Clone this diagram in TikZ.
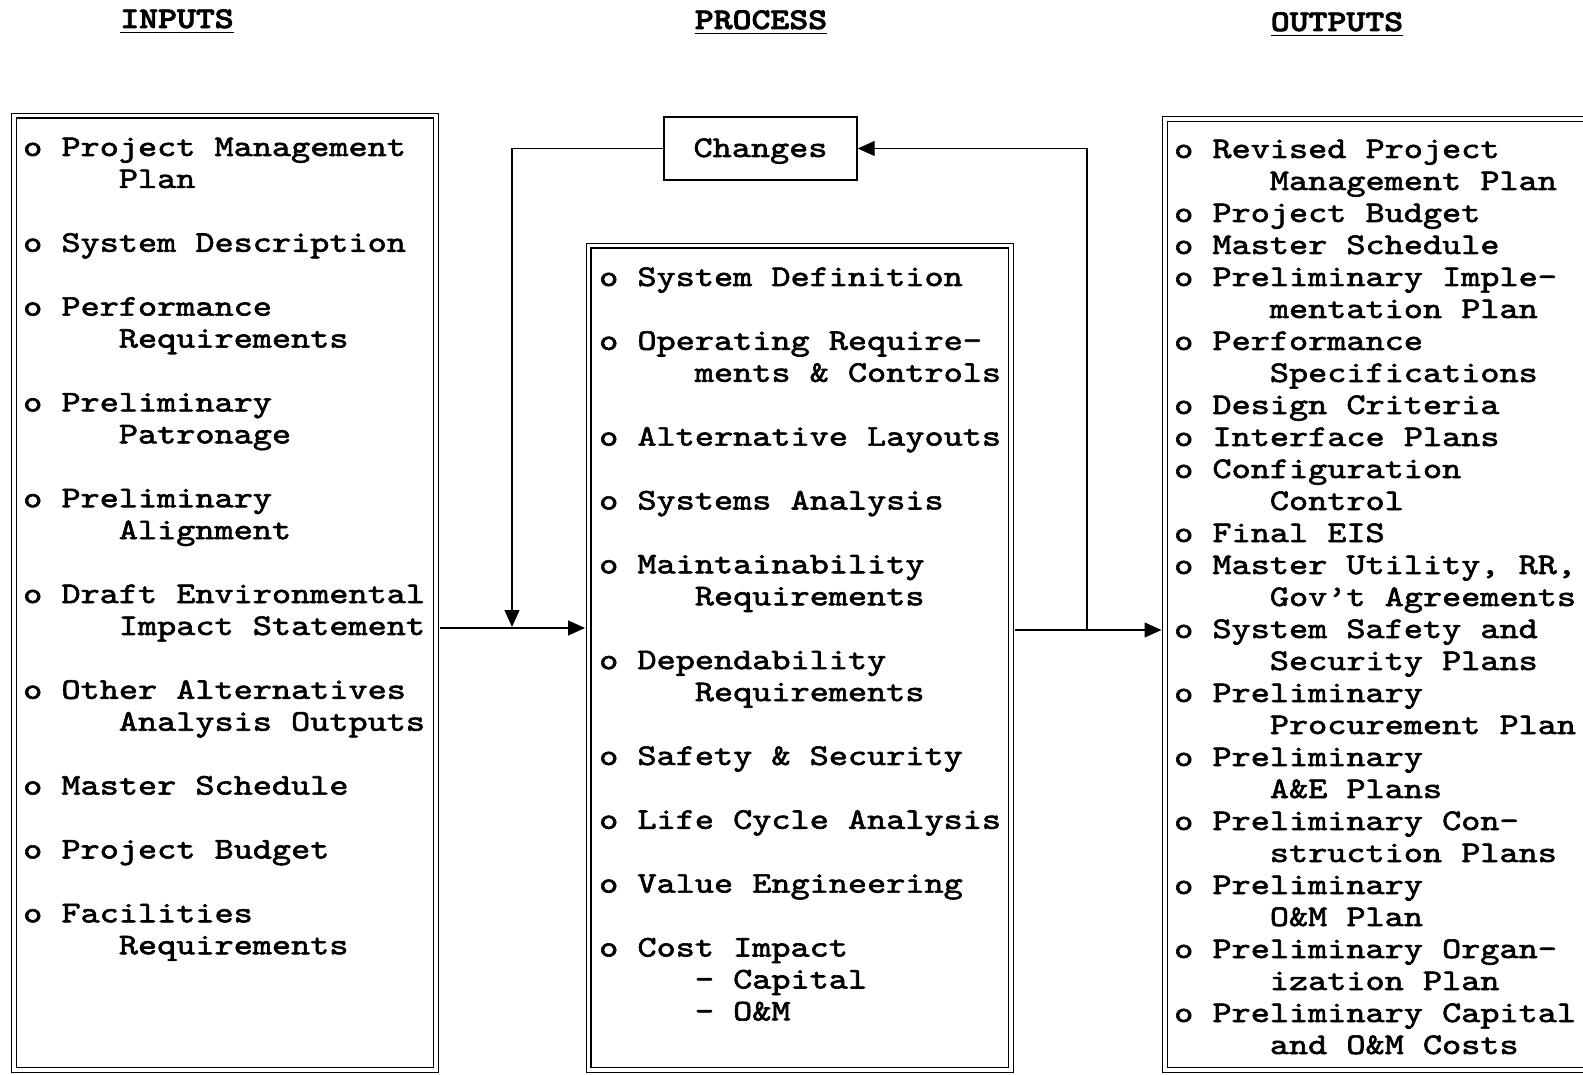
\documentclass[tikz,border=0pt]{standalone}
\usepackage{fontspec}
\usetikzlibrary{arrows.meta}

% serif typewriter face, widened to a Courier-like pitch
\newfontfamily\typew{lmmono10-regular.otf}[FakeStretch=1.215, FakeBold=2]
\newfontfamily\headfont{lmmonolt10-bold.otf}[FakeStretch=1.2, FakeBold=2.5]
\newcommand\bodyfont{\typew\fontsize{30}{32}\selectfont}
\newcommand\ind{\phantom{00000}}

% one text line per row of a fixed grid: name, x, first baseline, pitch, rows
\newcommand\itemrows[5]{%
  \foreach \r/\t in {#5}{%
    \node[txt] (#1-\r) at (#2, {#3 + \r*#4}) {\t};
  }%
}

\tikzset{
  txt/.style={font=\bodyfont, inner sep=0pt, anchor=base west},
  head/.style={font=\headfont\fontsize{30}{32}\selectfont, inner sep=0pt, anchor=base},
  dbox/.style={draw, double, double distance=3.4pt, line width=1.3pt,
               rectangle, inner sep=0pt, anchor=north west},
  sbox/.style={draw, line width=1.4pt, rectangle, inner sep=0pt,
               minimum width=193pt, minimum height=63pt,
               text height=20pt, text depth=3pt},
  conn/.style={line width=1.3pt},
  arr/.style={conn, -{Triangle[length=17pt,width=15pt]}},
}

\begin{document}
\begin{tikzpicture}[x=1pt, y=-1pt]
\useasboundingbox (0,0) rectangle (1583,1075);
\clip (0,0) rectangle (1583,1075);

% column headings
\node[head] (hin)   at (177,28)  {INPUTS};
\node[head] (hproc) at (761,29)  {PROCESS};
\node[head] (hout)  at (1337,31) {OUTPUTS};
\foreach \h in {hin,hproc,hout}
  \draw[line width=1.8pt] ([yshift=-4.5pt]\h.base west) -- ([yshift=-4.5pt]\h.base east);

% the three double-ruled columns
\node[dbox, minimum width=422pt,   minimum height=954.5pt] (inbox)   at (13.5,115)   {};
\node[dbox, minimum width=422.5pt, minimum height=824.5pt] (procbox) at (588,245)    {};
\node[dbox, minimum width=520pt,   minimum height=951pt]   (outbox)  at (1164.5,118.5) {};

% feedback box
\node[sbox, font=\bodyfont] (changes) at (760.5,148.5) {Changes};

% inputs
\itemrows{in}{23}{156}{31.93}{%
  0/o Project Management,
  1/\ind Plan,
  3/o System Description,
  5/o Performance,
  6/\ind Requirements,
  8/o Preliminary,
  9/\ind Patronage,
  11/o Preliminary,
  12/\ind Alignment,
  14/o Draft Environmental,
  15/\ind Impact Statement,
  17/o Other Alternatives,
  18/\ind Analysis Outputs,
  20/o Master Schedule,
  22/o Project Budget,
  24/o Facilities,
  25/\ind Requirements}

% process
\itemrows{pr}{599}{286}{31.93}{%
  0/o System Definition,
  2/o Operating Require-,
  3/\ind ments \& Controls,
  5/o Alternative Layouts,
  7/o Systems Analysis,
  9/o Maintainability,
  10/\ind Requirements,
  12/o Dependability,
  13/\ind Requirements,
  15/o Safety \& Security,
  17/o Life Cycle Analysis,
  19/o Value Engineering,
  21/o Cost Impact,
  22/\ind - Capital,
  23/\ind - O\&M}

% outputs
\itemrows{out}{1174}{158}{32}{%
  0/o Revised Project,
  1/\ind Management Plan,
  2/o Project Budget,
  3/o Master Schedule,
  4/o Preliminary Imple-,
  5/\ind mentation Plan,
  6/o Performance,
  7/\ind Specifications,
  8/o Design Criteria,
  9/o Interface Plans,
  10/o Configuration,
  11/\ind Control,
  12/o Final EIS,
  13/{o Master Utility, RR,},
  14/\ind Gov’t Agreements,
  15/o System Safety and,
  16/\ind Security Plans,
  17/o Preliminary,
  18/\ind Procurement Plan,
  19/o Preliminary,
  20/\ind A\&E Plans,
  21/o Preliminary Con-,
  22/\ind struction Plans,
  23/o Preliminary,
  24/\ind O\&M Plan,
  25/o Preliminary Organ-,
  26/\ind ization Plan,
  27/o Preliminary Capital,
  28/\ind and O\&M Costs}

% connectors
\coordinate (hl) at (0,628);
\coordinate (j1) at (512,627);
\coordinate (j2) at (1087,630);
\draw[arr, shorten <=3pt, shorten >=3pt] (inbox.east |- hl) -- (procbox.west |- hl);
\draw[arr] (changes.west) -| (j1);
\draw[arr, shorten <=3pt, shorten >=3pt] (procbox.east |- j2) -- (outbox.west |- j2);
\draw[arr] (j2) |- (changes.east);
\end{tikzpicture}
\end{document}
